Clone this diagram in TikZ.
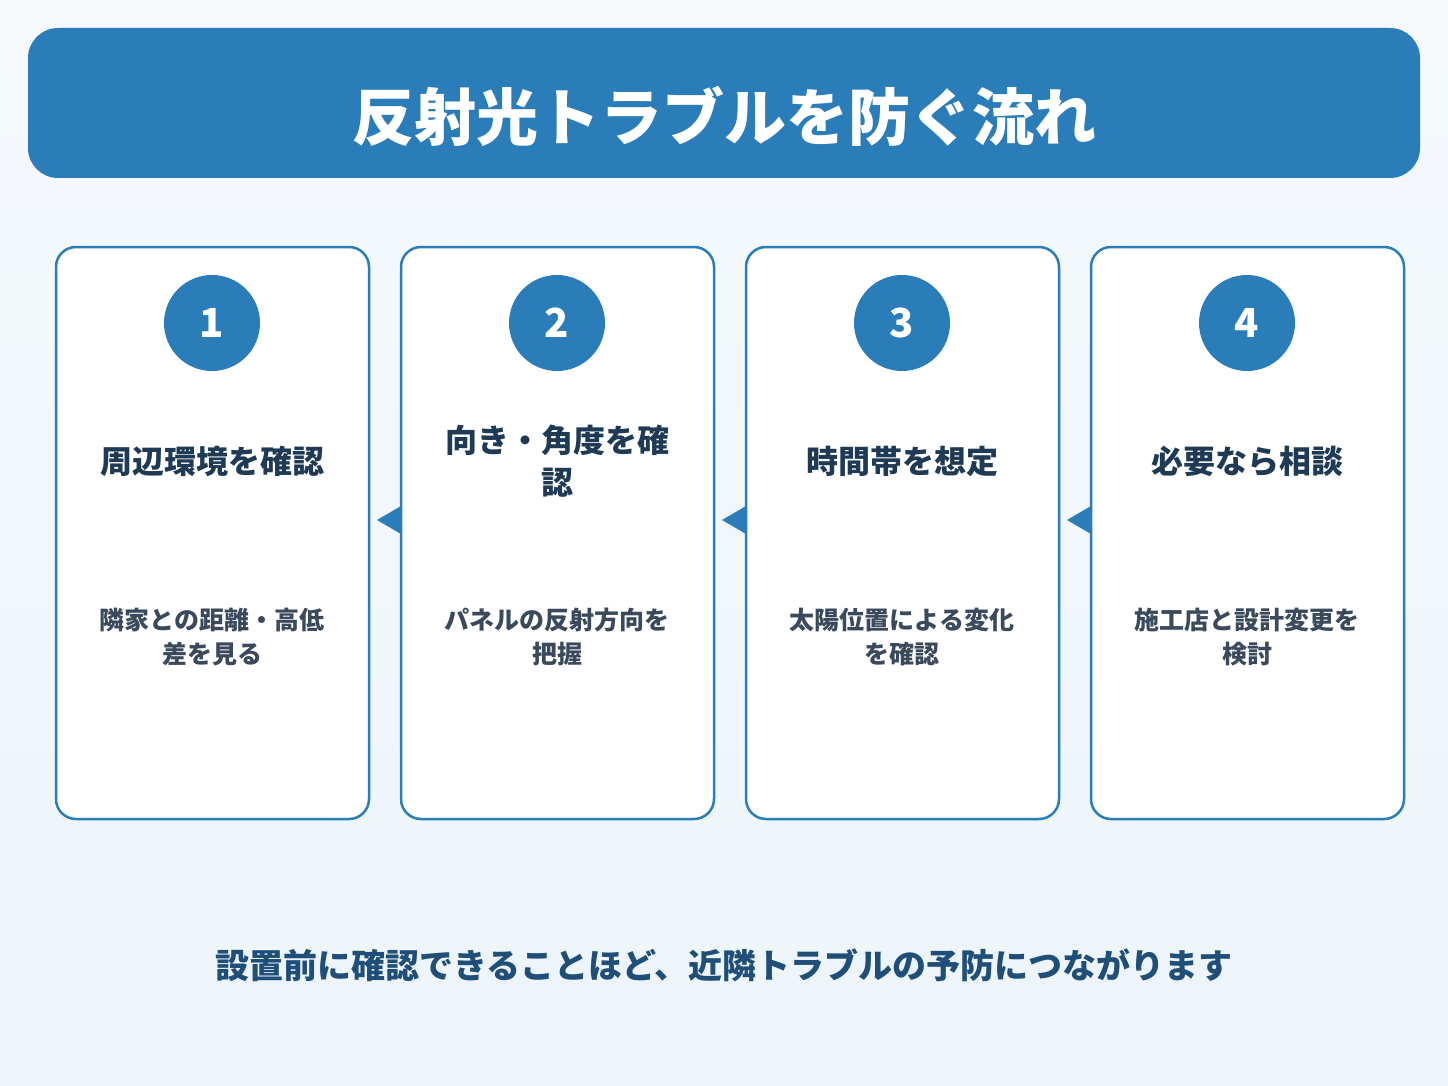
\documentclass[tikz,border=0pt]{standalone}
\usepackage{fontspec}
\setmainfont{Noto Sans CJK JP}
\newfontfamily\jpb{Noto Sans CJK JP}[BoldFont={* Bold}]
\definecolor{mblue}{HTML}{2A7DB8}
\definecolor{tdark}{HTML}{1F3A55}
\definecolor{tgray}{HTML}{3A4A5C}
\definecolor{bnavy}{HTML}{1F4E79}
\definecolor{bgtop}{HTML}{F5F9FC}
\definecolor{bgbot}{HTML}{EDF5FA}
\begin{document}
\begin{tikzpicture}[x=1pt,y=-1pt,
  card/.style={draw=mblue,line width=2.5pt,fill=white,rounded corners=20pt},
  num/.style={circle,fill=mblue,minimum size=96pt,inner sep=0,text=white,font=\fontsize{40}{40}\selectfont\bfseries},
  ttl/.style={text=tdark,font=\fontsize{32}{42}\selectfont\bfseries,align=center},
  dsc/.style={text=tgray,font=\fontsize{25}{34}\selectfont\bfseries,align=center},
  arr/.style={fill=mblue,draw=none}]
\shade[top color=bgtop,bottom color=bgbot] (0,0) rectangle (1448,1086);
\useasboundingbox (0,0) rectangle (1448,1086);
\fill[mblue,rounded corners=30pt] (28,28) rectangle (1420,178);
\node[text=white,font=\fontsize{62}{62}\selectfont\bfseries] (title) at (724,116) {反射光トラブルを防ぐ流れ};
\foreach \i/\x/\t/\d in {1/212/{周辺環境を確認}/{隣家との距離・高低\\差を見る},
  2/557/{向き・角度を確\\認}/{パネルの反射方向を\\把握},
  3/902/{時間帯を想定}/{太陽位置による変化\\を確認},
  4/1247/{必要なら相談}/{施工店と設計変更を\\検討}}{
  \draw[card] (\x-156,247) rectangle (\x+157,819);
  \node[num] (n\i) at (\x,323) {\i};
  \node[ttl] (t\i) at (\x,461) {\t};
  \node[dsc] (d\i) at (\x,637) {\d};
}
\foreach \x in {401,746,1091}{
  \fill[arr] (\x-24,520) -- (\x,506) -- (\x,534) -- cycle;
}
\node[text=bnavy,font=\fontsize{34}{34}\selectfont\bfseries] (foot) at (724,965) {設置前に確認できることほど、近隣トラブルの予防につながります};
\end{tikzpicture}
\end{document}
